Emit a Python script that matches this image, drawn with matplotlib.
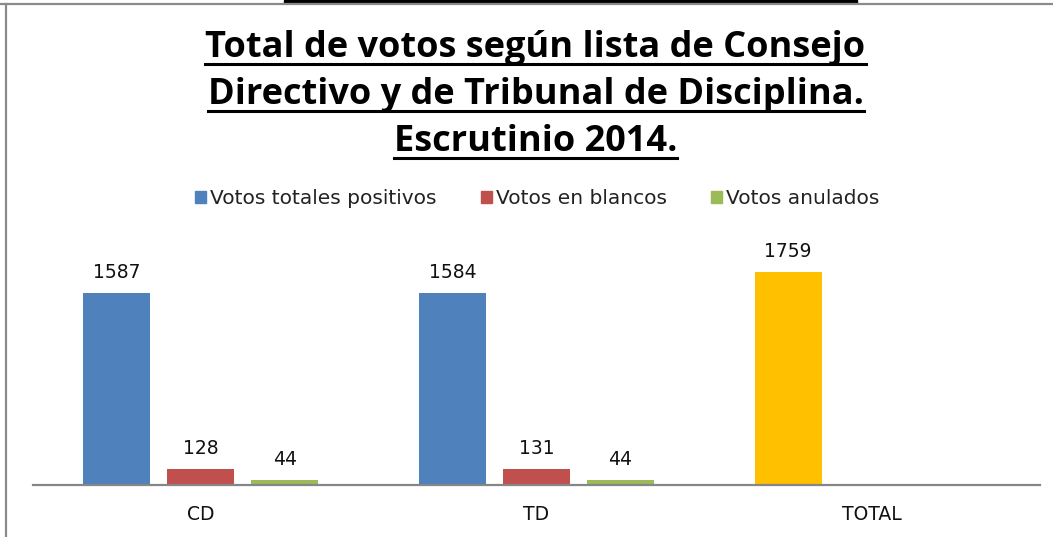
import matplotlib
matplotlib.use("Agg")
import matplotlib.pyplot as plt
import numpy as np
from matplotlib.lines import Line2D
from matplotlib.patches import Rectangle

# datos
categorias = ["CD", "TD", "TOTAL"]
positivos = [1587, 1584]
blancos = [128, 131]
anulados = [44, 44]
total = [1759]
series = ["Votos totales positivos", "Votos en blancos", "Votos anulados"]

titulo = ["Total de votos según lista de Consejo",
          "Directivo y de Tribunal de Disciplina.",
          "Escrutinio 2014."]

colores = ["#4F81BD", "#C0504D", "#9BBB59"]
amarillo = "#FFC000"

plt.rcParams["font.family"] = ["DejaVu Sans"]

W, H = 1053, 537
escala = 0.1212  # px por voto
fig = plt.figure(figsize=(W / 100, H / 100), dpi=100)
fig.patch.set_facecolor("white")

ax = fig.add_axes([33 / W, (H - 485) / H, (1040 - 33) / W, (485 - 230) / H])

x = np.arange(len(categorias))
ancho = 0.2
paso = 0.25
grupos = x[:len(positivos)]

barras = []
for i, (vals, c) in enumerate(zip([positivos, blancos, anulados], colores)):
    b = ax.bar(grupos + (i - 1) * paso, vals, ancho, color=c, label=series[i])
    barras.append(b)
b_total = ax.bar(x[2:] - paso, total, ancho, color=amarillo)
barras.append(b_total)

for b in barras:
    for r in b:
        ax.text(r.get_x() + r.get_width() / 2, r.get_height() + 15 / escala,
                f"{int(r.get_height())}", ha="center", va="baseline",
                fontsize=13.5, color="#111111")

ax.set_xlim(-0.5, 2.5)
ax.set_ylim(0, 255 / escala)
for s in ["top", "right", "left"]:
    ax.spines[s].set_visible(False)
ax.spines["bottom"].set_color("#868686")
ax.spines["bottom"].set_linewidth(1.6)
ax.set_yticks([])
ax.set_xticks(x)
ax.set_xticklabels(categorias, fontsize=13.5, color="#111111")
ax.tick_params(axis="x", length=0, pad=14.5)

# leyenda
handles = [Rectangle((0, 0), 1, 1, color=c) for c in colores]
fig.legend(handles, series, loc="center", bbox_to_anchor=(537 / W, 1 - 199 / H),
           ncol=3, frameon=False, fontsize=14.5, handlelength=0.55,
           handleheight=0.55, handletextpad=0.2, columnspacing=2.2,
           labelcolor="#222222")

# titulo subrayado
ys = [57, 104, 151]
textos = []
for t, yy in zip(titulo, ys):
    textos.append(fig.text(535.5 / W, 1 - yy / H, t, ha="center", va="baseline",
                           fontsize=26, fontweight="bold",
                           family=["Open Sans", "DejaVu Sans"]))
fig.canvas.draw()
r = fig.canvas.get_renderer()
for t, yy in zip(textos, ys):
    bb = t.get_window_extent(r)
    yl = H - (yy + 6.5)
    fig.add_artist(Line2D([bb.x0 / W, bb.x1 / W], [yl / H, yl / H],
                          transform=fig.transFigure, color="black", lw=2.2))

# marco
fig.add_artist(Line2D([0, 1], [1 - 3.5 / H, 1 - 3.5 / H], transform=fig.transFigure,
                      color="#8a8a8a", lw=1.6))
fig.add_artist(Line2D([6 / W, 6 / W], [0, 1 - 3.5 / H], transform=fig.transFigure,
                      color="#8a8a8a", lw=1.6))
fig.add_artist(Rectangle((284 / W, 1 - 2.5 / H), (857 - 284) / W, 2.5 / H,
                         transform=fig.transFigure, color="black"))

fig.savefig("out.png", dpi=100)
